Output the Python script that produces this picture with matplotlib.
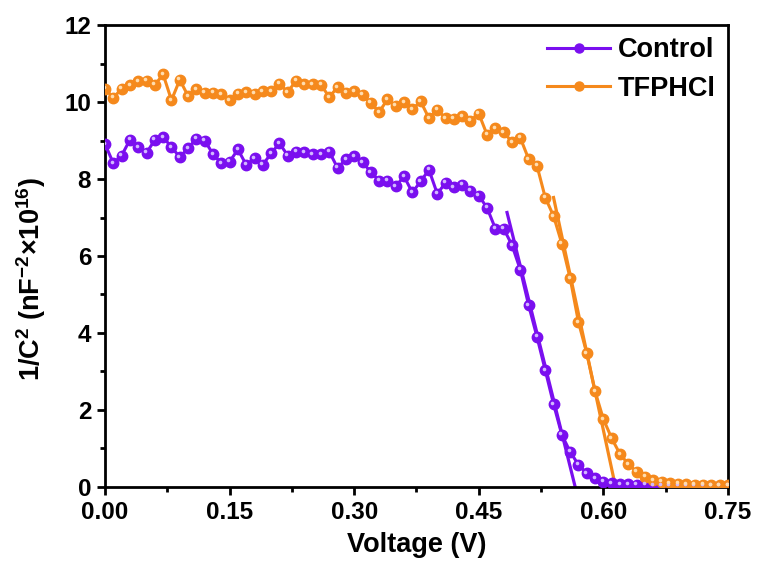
import numpy as np
import matplotlib
matplotlib.use("Agg")
import matplotlib.pyplot as plt
from matplotlib.transforms import ScaledTranslation
from matplotlib.lines import Line2D

plt.rcParams['font.family'] = ['Liberation Sans', 'DejaVu Sans']
plt.rcParams['font.weight'] = 'bold'
plt.rcParams['mathtext.fontset'] = 'custom'
plt.rcParams['mathtext.rm'] = 'Liberation Sans:bold'
plt.rcParams['mathtext.bf'] = 'Liberation Sans:bold'
plt.rcParams['mathtext.default'] = 'bf'

voltage = [round(0.01 * i, 2) for i in range(76)]

control = [8.91, 8.41, 8.61, 9.02, 8.83, 8.68, 9.02, 9.09, 8.83, 8.57,
           8.80, 9.05, 9.00, 8.65, 8.41, 8.45, 8.77, 8.37, 8.54, 8.37,
           8.67, 8.93, 8.61, 8.71, 8.70, 8.64, 8.64, 8.71, 8.29, 8.51,
           8.59, 8.44, 8.18, 7.96, 7.96, 7.81, 8.07, 7.65, 7.94, 8.24,
           7.62, 7.90, 7.78, 7.85, 7.70, 7.57, 7.25, 6.71, 6.71, 6.28,
           5.64, 4.72, 3.90, 3.03, 2.15, 1.35, 0.91, 0.57, 0.35, 0.22,
           0.13, 0.09, 0.07, 0.06, 0.05, 0.05, 0.04, 0.04, 0.04, 0.03,
           0.03, 0.03, 0.03, 0.03, 0.03, 0.03]

tfphcl = [10.35, 10.11, 10.35, 10.44, 10.54, 10.56, 10.45, 10.72, 10.05, 10.58,
          10.16, 10.33, 10.24, 10.24, 10.20, 10.05, 10.22, 10.26, 10.22, 10.29,
          10.29, 10.48, 10.26, 10.56, 10.46, 10.46, 10.45, 10.13, 10.39, 10.24,
          10.29, 10.19, 9.98, 9.74, 10.07, 9.91, 10.00, 9.81, 10.02, 9.58,
          9.80, 9.58, 9.57, 9.64, 9.52, 9.70, 9.15, 9.32, 9.22, 8.96,
          9.07, 8.52, 8.35, 7.52, 7.04, 6.32, 5.42, 4.28, 3.47, 2.48,
          1.76, 1.26, 0.85, 0.59, 0.39, 0.26, 0.17, 0.13, 0.10, 0.08,
          0.06, 0.05, 0.05, 0.04, 0.04, 0.04]

# linear (Mott-Schottky) fit lines: endpoints in data units
control_fit_v = [0.484, 0.566]
control_fit_y = [7.13, 0.0]
tfphcl_fit_v = [0.540, 0.6146]
tfphcl_fit_y = [7.52, 0.0]

labels = ['Control', 'TFPHCl']
colors = ['#7A0FEF', '#F5891C']
highlights = ['#D2B8FF', '#FFDDB0']

fig = plt.figure(figsize=(7.61, 5.72), dpi=100)
ax = fig.add_axes([0.138, 0.149, 0.8186, 0.807])

hl_offset = ax.transData + ScaledTranslation(-1.0 / 72, 1.0 / 72, fig.dpi_scale_trans)

series = [control, tfphcl]
fits = [(control_fit_v, control_fit_y), (tfphcl_fit_v, tfphcl_fit_y)]
for y, c, hc, (fv, fy) in zip(series, colors, highlights, fits):
    ax.plot(voltage, y, '-', color=c, lw=2.2, marker='o', ms=7.5,
            mec=c, mfc=c, zorder=3)
    ax.plot(voltage, y, 'o', color=hc, ms=2.6, mec='none',
            transform=hl_offset, zorder=4)
    ax.plot(fv, fy, '-', color=c, lw=2.3, zorder=2)

ax.set_xlim(0, 0.75)
ax.set_ylim(0, 12)
ax.set_xticks(np.arange(0, 0.76, 0.15))
ax.set_xticks(np.arange(0.075, 0.75, 0.15), minor=True)
ax.set_yticks(np.arange(0, 12.1, 2))
ax.set_yticks(np.arange(1, 12, 2), minor=True)
ax.set_xticklabels(['%.2f' % v for v in np.arange(0, 0.76, 0.15)])

for s in ax.spines.values():
    s.set_linewidth(2.0)
ax.tick_params(which='major', direction='out', length=6, width=2.0,
               labelsize=17.5, pad=4)
ax.tick_params(which='minor', direction='out', length=3.5, width=2.0)
ax.tick_params(top=False, right=False, which='both')
for t in ax.get_xticklabels() + ax.get_yticklabels():
    t.set_fontweight('bold')

ax.set_xlabel('Voltage (V)', fontsize=19.5, fontweight='bold', labelpad=6)
ax.set_ylabel(r'1/C$^{2}$ (nF$^{-2}$×10$^{16}$)', fontsize=19.5,
              fontweight='bold')
ax.yaxis.set_label_coords(-0.092, 0.45)

handles = []
for c, hc, lab in zip(colors, highlights, labels):
    handles.append(Line2D([], [], color=c, lw=2.2, marker='o', ms=6.5,
                          mfc=c, mec=c, label=lab))
leg = ax.legend(handles=handles, loc='upper right', frameon=False,
                handlelength=2.3, handletextpad=0.3,
                labelspacing=0.45, borderaxespad=0.35, borderpad=0.1,
                numpoints=1, prop={'weight': 'bold', 'size': 19.5})

fig.savefig('out.png', dpi=100)
